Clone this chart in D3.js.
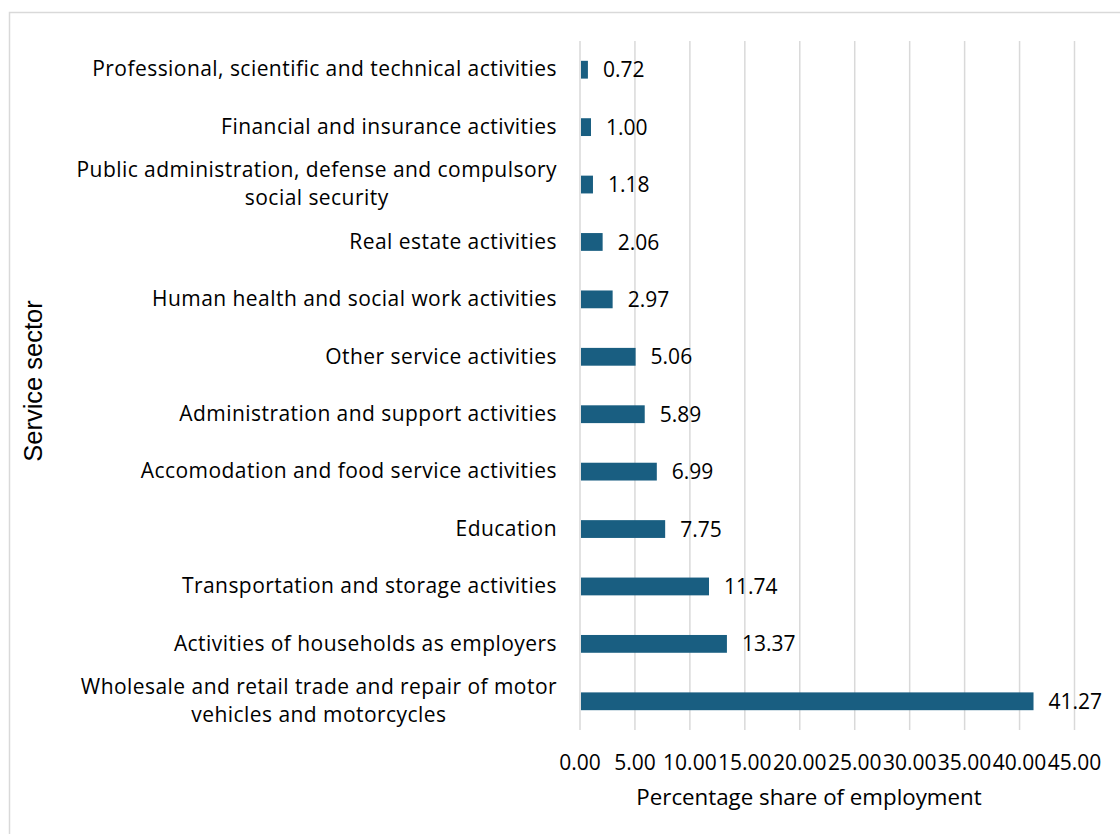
<!DOCTYPE html>
<html>
<head>
<meta charset="utf-8">
<script src="https://cdn.jsdelivr.net/npm/d3@7"></script>
<style>
  html, body { margin: 0; padding: 0; background: #fff; }
  svg { display: block; }
</style>
</head>
<body>
<svg id="chart" width="1120" height="834"></svg>
<script>
// Service sectors, top to bottom
const sectors = [
  "Professional, scientific and technical activities",
  "Financial and insurance activities",
  "Public administration, defense and compulsory|social security",
  "Real estate activities",
  "Human health and social work activities",
  "Other service activities",
  "Administration and support activities",
  "Accomodation and food service activities",
  "Education",
  "Transportation and storage activities",
  "Activities of households as employers",
  "Wholesale and retail trade and repair of motor|vehicles and motorcycles"
];
// Percentage share of employment per sector
const shares = [0.72, 1.00, 1.18, 2.06, 2.97, 5.06, 5.89, 6.99, 7.75, 11.74, 13.37, 41.27];
// Axis ticks
const xTicks = [0, 5, 10, 15, 20, 25, 30, 35, 40, 45];

const svg = d3.select("#chart");
const labelFont = "'Open Sans', 'Noto Sans', sans-serif";

// outer frame (top and left edges visible)
svg.append("path")
  .attr("d", "M9.5,834 V12.5 H1120")
  .attr("fill", "none").attr("stroke", "#d9d9d9").attr("stroke-width", 1.5);

const plot = { left: 580, right: 1074.5, top: 41, bottom: 730 };

const x = d3.scaleLinear().domain([0, 45]).range([plot.left, plot.right]);
const y = d3.scaleBand().domain(sectors).range([plot.top, plot.bottom]).paddingInner(0.69).paddingOuter(0.345);

// vertical gridlines
svg.append("g").selectAll("line").data(xTicks).join("line")
  .attr("x1", d => x(d)).attr("x2", d => x(d))
  .attr("y1", plot.top).attr("y2", plot.bottom)
  .attr("stroke", "#d9d9d9").attr("stroke-width", 1.5);

// bars
svg.append("g").selectAll("rect").data(sectors).join("rect")
  .attr("x", x(0) + 1)
  .attr("y", d => y(d))
  .attr("width", (d, i) => x(shares[i]) - x(0) - 1)
  .attr("height", y.bandwidth())
  .attr("fill", "#195e81");

// value labels
svg.append("g").selectAll("text").data(sectors).join("text")
  .attr("x", (d, i) => x(shares[i]) + 15)
  .attr("y", d => y(d) + y.bandwidth() / 2)
  .attr("dy", "0.36em")
  .attr("font-family", labelFont).attr("font-size", 21).attr("fill", "#000")
  .text((d, i) => shares[i].toFixed(2));

// category labels, right-aligned as a block, lines centred on each other
const cat = svg.append("g").selectAll("text").data(sectors).join("text")
  .attr("text-anchor", "middle")
  .attr("font-family", labelFont).attr("font-size", 21).attr("letter-spacing", 0.45).attr("fill", "#000");
cat.each(function(d) {
  const lines = d.split("|");
  const t = d3.select(this);
  const cy = y(d) + y.bandwidth() / 2;
  const lh = 28;
  lines.forEach((ln, k) => {
    t.append("tspan")
      .attr("x", 0)
      .attr("y", cy + (k - (lines.length - 1) / 2) * lh)
      .attr("dy", "0.32em")
      .text(ln);
  });
  const bb = this.getBBox();
  t.selectAll("tspan").attr("x", 557 - bb.width / 2);
});

// x tick labels
svg.append("g").selectAll("text").data(xTicks).join("text")
  .attr("x", d => x(d)).attr("y", 762).attr("dy", "0.36em")
  .attr("text-anchor", "middle")
  .attr("font-family", labelFont).attr("font-size", 21).attr("fill", "#000")
  .text(d => d3.format(".2f")(d));

// axis titles
svg.append("text")
  .attr("x", 809).attr("y", 797).attr("dy", "0.36em")
  .attr("text-anchor", "middle")
  .attr("font-family", labelFont).attr("font-size", 22.3).attr("fill", "#000")
  .text("Percentage share of employment");

svg.append("text")
  .attr("transform", "translate(33,381) rotate(-90)")
  .attr("dy", "0.36em")
  .attr("text-anchor", "middle")
  .attr("font-family", "'Liberation Sans', Arial, sans-serif").attr("font-size", 25.5).attr("fill", "#000")
  .text("Service sector");
</script>
</body>
</html>
